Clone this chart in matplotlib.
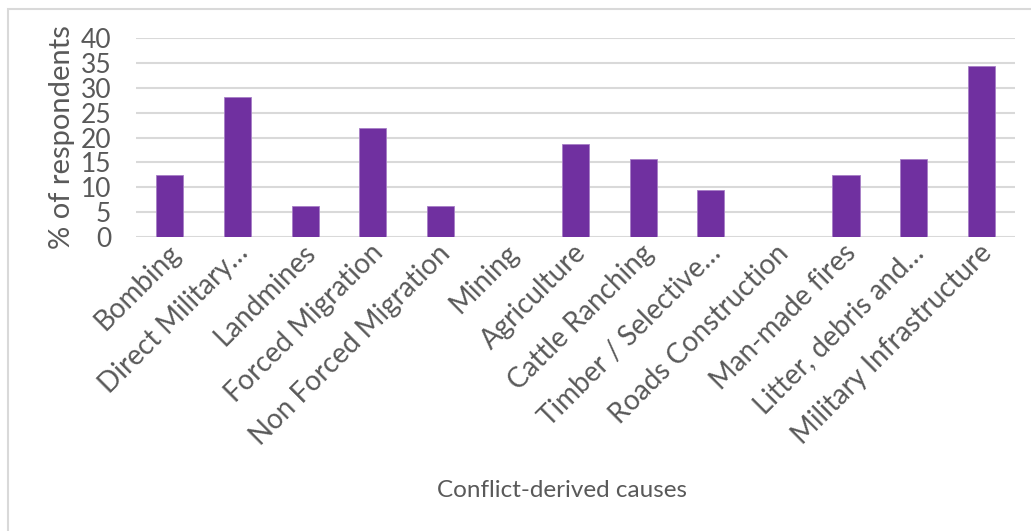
import matplotlib.pyplot as plt
import matplotlib.transforms as mtransforms
import numpy as np
from matplotlib.patches import Rectangle

categories = ['Bombing', 'Direct Military…', 'Landmines', 'Forced Migration',
              'Non Forced Migration', 'Mining', 'Agriculture', 'Cattle Ranching',
              'Timber / Selective…', 'Roads Construction', 'Man-made fires',
              'Litter, debris and…', 'Military Infrastructure']
values = [12.5, 28.125, 6.25, 21.875, 6.25, 0, 18.75, 15.625, 9.375, 0, 12.5, 15.625, 34.375]
yticks = [0, 5, 10, 15, 20, 25, 30, 35, 40]

plt.rcParams['font.family'] = ['Lato', 'DejaVu Sans']
grey = '#595959'

fig = plt.figure(figsize=(10.31, 5.31), dpi=100)
ax = fig.add_axes([0.132, 0.5537, 0.8525, 0.3747])

x = np.arange(len(categories))
ax.bar(x, values, width=0.4, color='#7030A0', edgecolor='#a77fc6', linewidth=0.6, zorder=3)

ax.set_xlim(-0.5, len(categories) - 0.5)
ax.set_ylim(0, 40)
ax.set_yticks(yticks)
ax.yaxis.grid(True, color='#d9d9d9', linewidth=1.5, zorder=0)
for s in ax.spines.values():
    s.set_visible(False)
ax.tick_params(axis='both', length=0, colors=grey)
ax.tick_params(axis='y', pad=18, labelsize=19)
ax.tick_params(axis='x', pad=2, labelsize=20)
ax.set_xticks(x)
ax.set_xticklabels(categories, rotation=45, ha='right', rotation_mode='anchor')
offset = mtransforms.ScaledTranslation(-3 / 100, 0, fig.dpi_scale_trans)
for lbl in ax.get_xticklabels():
    lbl.set_transform(lbl.get_transform() + offset)

ax.set_ylabel('% of respondents', fontsize=21, color=grey, labelpad=4)
fig.text(0.545, 0.076, 'Conflict-derived causes', ha='center', va='center', fontsize=17.5, color=grey)

fig.patches.append(Rectangle((8 / 1031, -0.01), 1.1, 1 - 9 / 531 + 0.01, transform=fig.transFigure,
                             fill=False, edgecolor='#d9d9d9', linewidth=1.5))

plt.savefig('out.png', dpi=100)
